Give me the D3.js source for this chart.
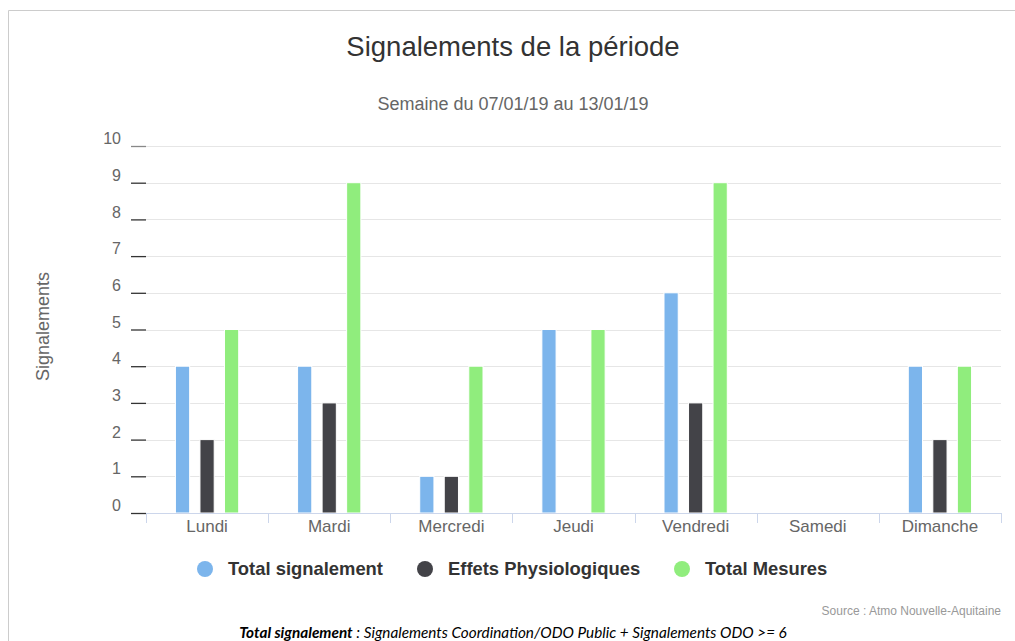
<!DOCTYPE html>
<html>
<head>
<meta charset="utf-8">
<script src="https://cdn.jsdelivr.net/npm/d3@7"></script>
<style>
  body { margin: 0; background: #fff; }
  svg { display: block; }
</style>
</head>
<body>
<div id="chart"></div>
<script>
// data
const days = ["Lundi", "Mardi", "Mercredi", "Jeudi", "Vendredi", "Samedi", "Dimanche"];
const seriesNames = ["Total signalement", "Effets Physiologiques", "Total Mesures"];
const totalSignalement = [4, 4, 1, 5, 6, 0, 4];
const effetsPhysio = [2, 3, 1, 0, 3, 0, 2];
const totalMesures = [5, 9, 4, 5, 9, 0, 4];
const yTicks = [0, 1, 2, 3, 4, 5, 6, 7, 8, 9, 10];
const colors = ["#7cb5ec", "#434348", "#90ed7d"];

const W = 1015, H = 641;
const margin = {top: 146, right: 14, bottom: 128, left: 146};
const width = W - margin.left - margin.right;
const height = H - margin.top - margin.bottom;

const svg = d3.select("#chart").append("svg")
  .attr("width", W)
  .attr("height", H)
  .style("font-family", "'Liberation Sans', Arial, sans-serif");

// frame
svg.append("path")
  .attr("d", `M8.5,${H} V10.5 H${W}`)
  .attr("fill", "none")
  .attr("stroke", "#ccc");

// titles
svg.append("text")
  .attr("x", 513).attr("y", 56)
  .attr("text-anchor", "middle")
  .attr("fill", "#333")
  .style("font-size", "27.5px")
  .text("Signalements de la période");

svg.append("text")
  .attr("x", 513).attr("y", 110)
  .attr("text-anchor", "middle")
  .attr("fill", "#666")
  .style("font-size", "18px")
  .text("Semaine du 07/01/19 au 13/01/19");

const chart = svg.append("g")
  .attr("transform", `translate(${margin.left},${margin.top})`);

const x0 = d3.scaleBand().domain(days).range([0, width]);
const x1 = d3.scaleBand().domain(seriesNames)
  .range([0, x0.bandwidth()])
  .paddingOuter(1.2).paddingInner(0.42);
const y = d3.scaleLinear().domain([0, 10]).range([height, 0]);

// gridlines
chart.append("g")
  .selectAll("line")
  .data(yTicks)
  .join("line")
  .attr("x1", 0).attr("x2", width)
  .attr("y1", d => Math.round(y(d)) + 0.5)
  .attr("y2", d => Math.round(y(d)) + 0.5)
  .attr("stroke", "#e6e6e6");

// y axis
const yAxis = chart.append("g")
  .call(d3.axisLeft(y).tickValues(yTicks).tickSize(15).tickPadding(10));
yAxis.select(".domain").remove();
yAxis.selectAll(".tick line").attr("stroke", d => d === 10 ? "#888" : "#333").attr("stroke-width", 1.3);
yAxis.selectAll(".tick text")
  .attr("dy", "-0.15em")
  .attr("fill", "#666")
  .style("font-size", "16px")
  .style("font-family", "'Liberation Sans', Arial, sans-serif");

svg.append("text")
  .attr("transform", `translate(49,${margin.top + height / 2 - 3}) rotate(-90)`)
  .attr("text-anchor", "middle")
  .attr("fill", "#666")
  .style("font-size", "18px")
  .text("Signalements");

// bars
const rows = days.map((d, i) => ({
  day: d,
  values: [totalSignalement[i], effetsPhysio[i], totalMesures[i]]
}));

const groups = chart.selectAll(".day")
  .data(rows)
  .join("g")
  .attr("transform", d => `translate(${x0(d.day)},0)`);

groups.selectAll("rect")
  .data(d => d.values.map((v, j) => ({name: seriesNames[j], value: v, j})))
  .join("rect")
  .filter(d => d.value > 0)
  .attr("x", d => x1(d.name))
  .attr("width", x1.bandwidth())
  .attr("y", d => y(d.value))
  .attr("height", d => y(0) - y(d.value))
  .attr("fill", d => colors[d.j])
  .attr("stroke", "#fff")
  .attr("stroke-width", 1);

// x axis
const xAxis = chart.append("g")
  .attr("transform", `translate(0,${height})`);
xAxis.append("line")
  .attr("x1", 0).attr("x2", width)
  .attr("y1", 0.5).attr("y2", 0.5)
  .attr("stroke", "#ccd6eb");
xAxis.selectAll(".xtick")
  .data(days.map(d => x0(d)).concat([width]))
  .join("line")
  .attr("x1", d => Math.round(d) + 0.5).attr("x2", d => Math.round(d) + 0.5)
  .attr("y1", 0).attr("y2", 10)
  .attr("stroke", "#ccd6eb");
xAxis.selectAll(".xlabel")
  .data(days)
  .join("text")
  .attr("x", d => x0(d) + x0.bandwidth() / 2)
  .attr("y", 19)
  .attr("text-anchor", "middle")
  .attr("fill", "#666")
  .style("font-size", "17px")
  .text(d => d);

// legend
const legendX = [205, 425, 682];
const legend = svg.append("g").attr("transform", "translate(0,569)");
const items = legend.selectAll("g")
  .data(seriesNames)
  .join("g")
  .attr("transform", (d, i) => `translate(${legendX[i]},0)`);
items.append("circle")
  .attr("r", 8)
  .attr("fill", (d, i) => colors[i]);
items.append("text")
  .attr("x", 23)
  .attr("y", 6)
  .attr("fill", "#333")
  .style("font-size", "18.4px")
  .style("font-weight", "bold")
  .text(d => d);

// credits
svg.append("text")
  .attr("x", 1001).attr("y", 615)
  .attr("text-anchor", "end")
  .attr("fill", "#999")
  .style("font-size", "12px")
  .text("Source : Atmo Nouvelle-Aquitaine");

const note = svg.append("text")
  .attr("x", 513).attr("y", 638)
  .attr("text-anchor", "middle")
  .attr("fill", "#000")
  .style("font-family", "Lato, sans-serif")
  .style("font-style", "italic")
  .style("font-size", "15.3px");
note.append("tspan").style("font-weight", "bold").text("Total signalement");
note.append("tspan").text(" : Signalements Coordination/ODO Public + Signalements ODO >= 6");
</script>
</body>
</html>
